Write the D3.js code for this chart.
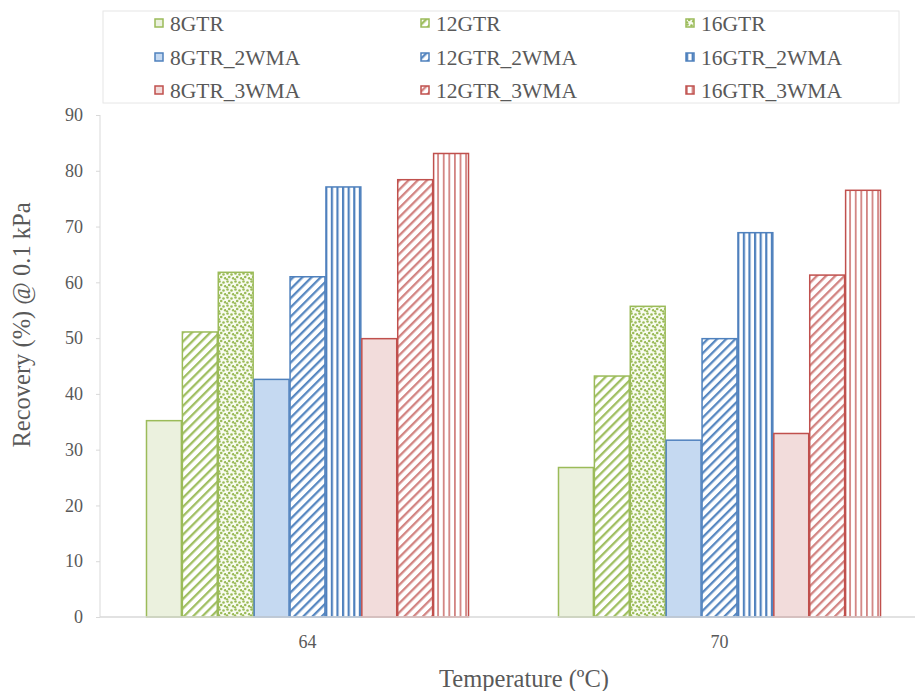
<!DOCTYPE html>
<meta charset="utf-8">
<style>
body { margin: 0; background: #fff; }
text { font-family: "Liberation Serif", "Times New Roman", serif; fill: #595959; }
.axis path, .axis line { stroke: #d9d9d9; }
</style>
<svg width="915" height="691"></svg>
<script src="https://cdn.jsdelivr.net/npm/d3@7"></script>
<script>

var categories = ["64", "70"];
var seriesNames = ["8GTR", "12GTR", "16GTR", "8GTR_2WMA", "12GTR_2WMA", "16GTR_2WMA", "8GTR_3WMA", "12GTR_3WMA", "16GTR_3WMA"];
var values64 = [35.2, 51.1, 61.8, 42.6, 61.0, 77.1, 49.9, 78.4, 83.1];
var values70 = [26.8, 43.2, 55.7, 31.7, 49.9, 68.9, 32.9, 61.3, 76.5];
var yTicks = [0, 10, 20, 30, 40, 50, 60, 70, 80, 90];

var colors = ["#9bbb59", "#9bbb59", "#9bbb59", "#4f81bd", "#4f81bd", "#4f81bd", "#c0504d", "#c0504d", "#c0504d"];
var lightFill = {"#9bbb59": "#ebf1de", "#4f81bd": "#c5d9f1", "#c0504d": "#f2dcdb"};

var svg = d3.select("svg");
var plotTop = 115, plotBottom = 617;

var x0 = d3.scaleBand().domain(categories).range([101.5, 925.5])
    .paddingInner(0.216).paddingOuter(0.108);
var x1 = d3.scaleBand().domain(seriesNames).range([0, x0.bandwidth()]);
var y = d3.scaleLinear().domain([0, 90]).range([plotBottom, plotTop]);

// patterns
var defs = svg.append("defs");
function fillFor(i) {
  var c = colors[i], kind = i % 3;
  if (kind === 0) return lightFill[c];
  var id = "pat" + i;
  var p;
  if (kind === 1) {
    p = defs.append("pattern").attr("id", id).attr("patternUnits", "userSpaceOnUse")
        .attr("width", 6.5).attr("height", 6.5).attr("patternTransform", "rotate(45)");
    p.append("rect").attr("width", 6.5).attr("height", 6.5).attr("fill", "#fff");
    p.append("rect").attr("width", 2.3).attr("height", 6.5).attr("fill", c)
        .attr("opacity", i === 7 ? 0.7 : 0.95);
  } else if (i === 2) {
    p = defs.append("pattern").attr("id", id).attr("patternUnits", "userSpaceOnUse")
        .attr("width", 8).attr("height", 8);
    p.append("rect").attr("width", 8).attr("height", 8).attr("fill", "#f8fbf0");
    [[1.5, 1.5], [5.5, 2.5], [3.2, 5.0], [7.2, 6.2], [1.0, 7.5]].forEach(function(d) {
      p.append("circle").attr("cx", d[0]).attr("cy", d[1]).attr("r", 1.3).attr("fill", c);
    });
  } else {
    var w = i === 5 ? 2.2 : 1.8;
    p = defs.append("pattern").attr("id", id).attr("patternUnits", "userSpaceOnUse")
        .attr("width", 5.6).attr("height", 6);
    p.append("rect").attr("width", 5.6).attr("height", 6).attr("fill", "#fff");
    p.append("rect").attr("width", w).attr("height", 6).attr("fill", c)
        .attr("opacity", i === 8 ? 0.7 : 1);
  }
  return "url(#" + id + ")";
}
var fills = seriesNames.map(function(d, i) { return fillFor(i); });

// y axis
var yAxis = svg.append("g").attr("class", "axis")
    .attr("transform", "translate(100,0)")
    .call(d3.axisLeft(y).tickValues(yTicks).tickSize(4).tickPadding(13));
yAxis.select(".domain").remove();
yAxis.append("line").attr("x1", 0).attr("x2", 0).attr("y1", plotTop).attr("y2", plotBottom).attr("stroke", "#d9d9d9");
yAxis.selectAll("text").style("font-size", "18px").attr("fill", "#595959");

// bars
var data = categories.map(function(c, ci) {
  var vals = ci === 0 ? values64 : values70;
  return {cat: c, vals: vals};
});

var groups = svg.selectAll(".grp").data(data).enter().append("g")
    .attr("class", "grp")
    .attr("transform", function(d) { return "translate(" + x0(d.cat) + ",0)"; });

groups.selectAll("rect").data(function(d) {
    return d.vals.map(function(v, i) { return {i: i, v: v}; });
  }).enter().append("rect")
    .attr("x", function(d) { return x1(seriesNames[d.i]) + 0.5; })
    .attr("y", function(d) { return y(d.v); })
    .attr("width", x1.bandwidth() - 1)
    .attr("height", function(d) { return y(0) - y(d.v); })
    .attr("fill", function(d) { return fills[d.i]; })
    .attr("stroke", function(d) { return colors[d.i]; })
    .attr("stroke-width", 1.5);

// x axis
var xAxis = svg.append("g").attr("class", "axis")
    .attr("transform", "translate(0," + plotBottom + ")")
    .call(d3.axisBottom(x0).tickSize(0).tickPadding(18));
xAxis.select(".domain").remove();
xAxis.append("line").attr("x1", 100).attr("x2", 915).attr("stroke", "#d9d9d9").attr("stroke-width", 1.5);
xAxis.selectAll("text").style("font-size", "18px").attr("fill", "#595959");

// axis titles
svg.append("text").attr("x", 524).attr("y", 687).attr("text-anchor", "middle")
    .style("font-size", "24.5px").text("Temperature (ºC)");
svg.append("text").attr("transform", "translate(30,325) rotate(-90)").attr("text-anchor", "middle")
    .style("font-size", "24.5px").text("Recovery (%) @ 0.1 kPa");

// legend
svg.append("rect").attr("x", 103).attr("y", 11).attr("width", 796).attr("height", 92)
    .attr("fill", "none").attr("stroke", "#e6e6e6");
var colX = [155, 421, 686], rowY = [23, 57, 90];
var leg = svg.selectAll(".leg").data(seriesNames).enter().append("g")
    .attr("class", "leg")
    .attr("transform", function(d, i) { return "translate(" + colX[i % 3] + "," + rowY[Math.floor(i / 3)] + ")"; });
leg.append("rect").attr("x", 0).attr("y", -4).attr("width", 8).attr("height", 8)
    .attr("fill", function(d, i) { return fills[i]; })
    .attr("stroke", function(d, i) { return colors[i]; }).attr("stroke-width", 1.5);
leg.append("text").attr("x", 15).attr("y", 7.5).style("font-size", "21.5px")
    .text(function(d) { return d; });

</script>
